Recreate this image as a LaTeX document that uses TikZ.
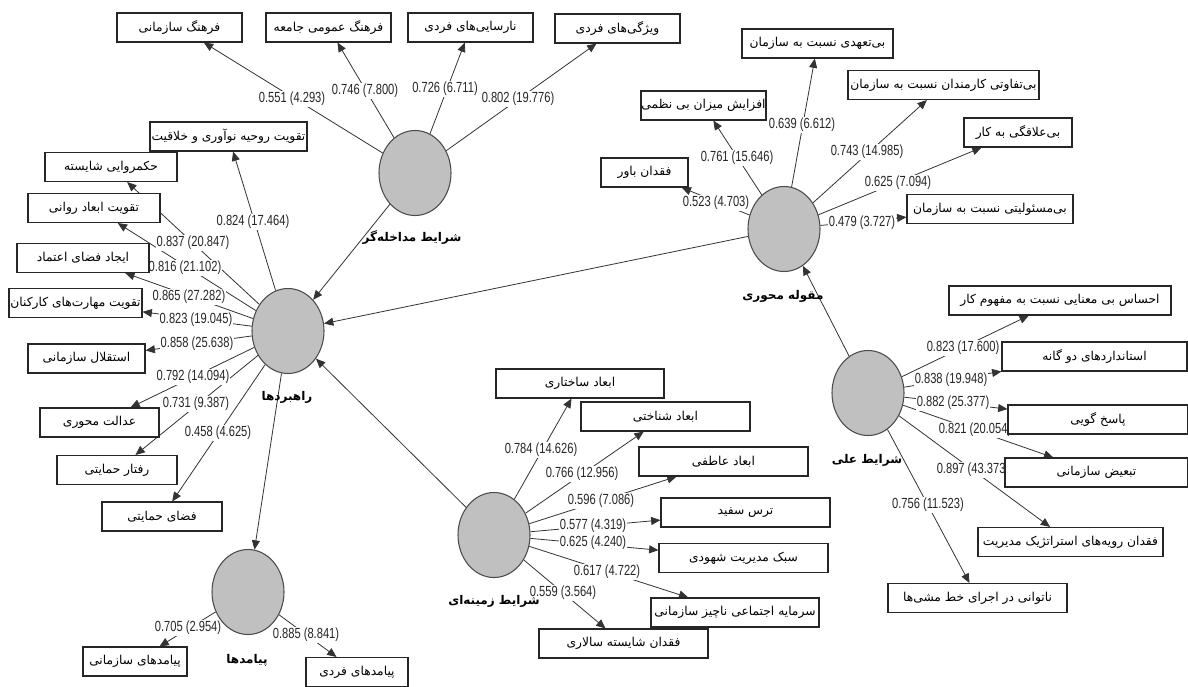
\documentclass[tikz,border=0pt]{standalone}
\usepackage{fontspec}
\usetikzlibrary{shapes.geometric,arrows.meta}
\newfontfamily\fa[Script=Arabic]{DejaVu Sans}
\newfontfamily\numf[FakeStretch=0.76]{Liberation Sans}
\TeXXeTstate=1
\newcommand{\rt}[1]{\beginR #1\endR}
\pgfdeclarelayer{bg}\pgfdeclarelayer{mid}\pgfsetlayers{bg,mid,main}
\definecolor{latfill}{RGB}{192,192,192}
\begin{document}
\begin{tikzpicture}[x=0.75pt,y=-0.75pt,
 ind/.style={draw=black!85, line width=0.8pt, fill=white, minimum height=29*0.75pt, inner sep=0pt, font=\fa\fontsize{9.2}{11}\selectfont},
 bw/.style={minimum width=#1*0.75pt},
 lat/.style={ellipse, draw=black!70, line width=0.8pt, fill=latfill, minimum width=72*0.75pt, minimum height=85*0.75pt, inner sep=0pt},
 latlab/.style={font=\fa\bfseries\fontsize{9}{11}\selectfont},
 lab/.style={font=\numf\fontsize{11}{13}\selectfont, fill=white, inner sep=0.6pt, text=black!85},
 conn/.style={draw=black!80, line width=0.6pt, -{Triangle[length=7pt,width=6pt]}}
]
\useasboundingbox (0,0) rectangle (1188,686);

% latent variables
\node[lat] (mod) at (415,173) {};
\node[lat] (rah) at (288,331) {};
\node[lat] (core) at (784,229) {};
\node[lat] (cau) at (868,393) {};
\node[lat] (ctx) at (494,535) {};
\node[lat] (out) at (248,592) {};

\node[latlab] (modl) at (412,238) {\rt{شرایط مداخله‌گر}};
\node[latlab] (rahl) at (287,397) {\rt{راهبردها}};
\node[latlab] (corel) at (783,296) {\rt{مقوله محوری}};
\node[latlab] (caul) at (867,460) {\rt{شرایط علی}};
\node[latlab] (ctxl) at (494,601) {\rt{شرایط زمینه‌ای}};
\node[latlab] (outl) at (247,660) {\rt{پیامدها}};

% moderator indicators
\node[ind,bw=125] (b1) at (179.5,27.5) {\rt{فرهنگ سازمانی}};
\node[ind,bw=125] (b2) at (328.5,27.5) {\rt{فرهنگ عمومی جامعه}};
\node[ind,bw=125] (b3) at (470.5,27.5) {\rt{نارسایی‌های فردی}};
\node[ind,bw=125] (b4) at (617.5,28.5) {\rt{ویژگی‌های فردی}};

% strategies indicators
\node[ind,bw=157] (r1) at (228.5,136.5) {\rt{تقویت روحیه نوآوری و خلاقیت}};
\node[ind,bw=132] (r2) at (111,167) {\rt{حکمروایی شایسته}};
\node[ind,bw=132] (r3) at (94,208) {\rt{تقویت ابعاد روانی}};
\node[ind,bw=132] (r4) at (83,258) {\rt{ایجاد فضای اعتماد}};
\node[ind,bw=133] (r5) at (75.5,303) {\rt{تقویت مهارت‌های کارکنان}};
\node[ind,bw=117] (r6) at (86.5,358.5) {\rt{استقلال سازمانی}};
\node[ind,bw=119] (r7) at (99.5,422.5) {\rt{عدالت محوری}};
\node[ind,bw=120] (r8) at (117,470) {\rt{رفتار حمایتی}};
\node[ind,bw=120] (r9) at (162,516.5) {\rt{فضای حمایتی}};

% outcomes indicators
\node[ind,bw=104] (o1) at (135,661.5) {\rt{پیامدهای سازمانی}};
\node[ind,bw=102] (o2) at (357,672) {\rt{پیامدهای فردی}};

% core indicators
\node[ind,bw=151] (c1) at (817.5,43.5) {\rt{بی‌تعهدی نسبت به سازمان}};
\node[ind,bw=191] (c2) at (943.5,85) {\rt{بی‌تفاوتی کارمندان نسبت به سازمان}};
\node[ind,bw=108] (c3) at (1018,132.5) {\rt{بی‌علاقگی به کار}};
\node[ind,bw=166] (c4) at (990,209) {\rt{بی‌مسئولیتی نسبت به سازمان}};
\node[ind,bw=125] (c5) at (703.5,105.5) {\rt{افزایش میزان بی نظمی}};
\node[ind,bw=87] (c6) at (644.5,172.5) {\rt{فقدان باور}};

% causal indicators
\node[ind,bw=222] (a1) at (1060,300.5) {\rt{احساس بی معنایی نسبت به مفهوم کار}};
\node[ind,bw=185] (a2) at (1094.5,356.5) {\rt{استانداردهای دو گانه}};
\node[ind,bw=180] (a3) at (1098,419.5) {\rt{پاسخ گویی}};
\node[ind,bw=183] (a4) at (1096.5,472.5) {\rt{تبعیض سازمانی}};
\node[ind,bw=185] (a5) at (1070.5,542) {\rt{فقدان رویه‌های استراتژیک مدیریت}};
\node[ind,bw=179] (a6) at (977.5,598) {\rt{ناتوانی در اجرای خط مشی‌ها}};

% context indicators
\node[ind,bw=168] (z1) at (580,383.5) {\rt{ابعاد ساختاری}};
\node[ind,bw=169] (z2) at (665.5,416.5) {\rt{ابعاد شناختی}};
\node[ind,bw=169] (z3) at (723.5,461.5) {\rt{ابعاد عاطفی}};
\node[ind,bw=169] (z4) at (745.5,512.5) {\rt{ترس سفید}};
\node[ind,bw=169] (z5) at (743.5,558) {\rt{سبک مدیریت شهودی}};
\node[ind,bw=168] (z6) at (735,612.5) {\rt{سرمایه اجتماعی ناچیز سازمانی}};
\node[ind,bw=169] (z7) at (623.5,643.5) {\rt{فقدان شایسته سالاری}};

\begin{pgfonlayer}{bg}
\fill[white] (0,0) rectangle (1188,686);
% structural paths
\draw[conn] (mod) -- (rah);
\draw[conn] (core) -- (rah);
\draw[conn] (ctx) -- (rah);
\draw[conn] (cau) -- (core);
\draw[conn] (rah) -- (out);
% outer loadings
\foreach \t in {b1,b2,b3,b4} \draw[conn] (mod) -- (\t);
\foreach \t in {r1,r2,r3,r4,r5,r6,r7,r8,r9} \draw[conn] (rah) -- (\t);
\foreach \t in {o1,o2} \draw[conn] (out) -- (\t);
\foreach \t in {c1,c2,c3,c4,c5,c6} \draw[conn] (core) -- (\t);
\foreach \t in {a1,a2,a3,a4,a5,a6} \draw[conn] (cau) -- (\t);
\foreach \t in {z1,z2,z3,z4,z5,z6,z7} \draw[conn] (ctx) -- (\t);
\end{pgfonlayer}

\begin{pgfonlayer}{mid}
\node[lab] (lb1) at (292,99) {0.551 (4.293)};
\node[lab] (lb2) at (365,91) {0.746 (7.800)};
\node[lab] (lb3) at (445,89) {0.726 (6.711)};
\node[lab] (lb4) at (518,99) {0.802 (19.776)};
\node[lab] (lr1) at (253,222) {0.824 (17.464)};
\node[lab] (lr2) at (193,243) {0.837 (20.847)};
\node[lab] (lr3) at (185,268) {0.816 (21.102)};
\node[lab] (lr4) at (189,297) {0.865 (27.282)};
\node[lab] (lr5) at (196,320) {0.823 (19.045)};
\node[lab] (lr6) at (197,344) {0.858 (25.638)};
\node[lab] (lr7) at (193,377) {0.792 (14.094)};
\node[lab] (lr8) at (196,404) {0.731 (9.387)};
\node[lab] (lr9) at (218,433) {0.458 (4.625)};
\node[lab] (lo1) at (188,628) {0.705 (2.954)};
\node[lab] (lo2) at (306,635) {0.885 (8.841)};
\node[lab] (lc1) at (802,125) {0.639 (6.612)};
\node[lab] (lc2) at (867,152) {0.743 (14.985)};
\node[lab] (lc3) at (898,183) {0.625 (7.094)};
\node[lab] (lc4) at (862,223) {0.479 (3.727)};
\node[lab] (lc5) at (737,158) {0.761 (15.646)};
\node[lab] (lc6) at (716,203) {0.523 (4.703)};
\node[lab] (la1) at (963,348) {0.823 (17.600)};
\node[lab] (la2) at (951,380) {0.838 (19.948)};
\node[lab] (la3) at (953,403) {0.882 (25.377)};
\node[lab] (la4) at (975,430) {0.821 (20.054)};
\node[lab] (la5) at (973,470) {0.897 (43.373)};
\node[lab] (la6) at (928,505) {0.756 (11.523)};
\node[lab] (lz1) at (541,450) {0.784 (14.626)};
\node[lab] (lz2) at (582,474) {0.766 (12.956)};
\node[lab] (lz3) at (601,501) {0.596 (7.086)};
\node[lab] (lz4) at (593,526) {0.577 (4.319)};
\node[lab] (lz5) at (593,543) {0.625 (4.240)};
\node[lab] (lz6) at (607,572) {0.617 (4.722)};
\node[lab] (lz7) at (563,593) {0.559 (3.564)};
\end{pgfonlayer}
\end{tikzpicture}
\end{document}
